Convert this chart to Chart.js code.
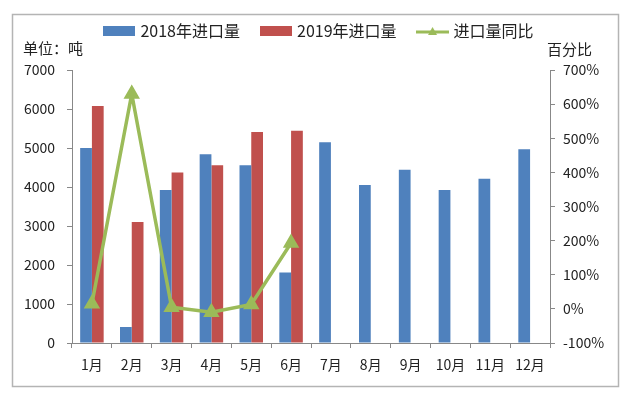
<!DOCTYPE html>
<html>
<head>
<meta charset="utf-8">
<script src="https://cdn.jsdelivr.net/npm/chart.js@4"></script>
<style>
  html, body { margin: 0; padding: 0; background: #fff; }
  #wrap { width: 640px; height: 395px; }
</style>
</head>
<body>
<div id="wrap"><canvas id="importChart" width="640" height="395"></canvas></div>
<script>
const months = ['1月', '2月', '3月', '4月', '5月', '6月', '7月', '8月', '9月', '10月', '11月', '12月'];
const imports2018 = [5000, 410, 3920, 4840, 4560, 1810, 5150, 4050, 4440, 3920, 4210, 4970];
const imports2019 = [6080, 3100, 4370, 4560, 5410, 5440, null, null, null, null, null, null];
const yoyPercent = [15, 630, 5, -10, 13, 193, null, null, null, null, null, null];
const leftTicks = [0, 1000, 2000, 3000, 4000, 5000, 6000, 7000];
const rightTicks = [-100, 0, 100, 200, 300, 400, 500, 600, 700];

const FONT = '"Noto Sans CJK SC", "Noto Sans", sans-serif';
const BLUE = '#4F81BD';
const RED = '#C0504D';
const GREEN = '#9BBB59';

// little legend symbols, Excel style
function boxSymbol(color) {
    const c = document.createElement('canvas');
    c.width = 32; c.height = 10;
    const g = c.getContext('2d');
    g.fillStyle = color;
    g.fillRect(0, 0, 32, 10);
    return c;
}
function lineSymbol(color) {
    const c = document.createElement('canvas');
    c.width = 33; c.height = 12;
    const g = c.getContext('2d');
    g.strokeStyle = color;
    g.lineWidth = 3;
    g.beginPath(); g.moveTo(0, 7); g.lineTo(33, 7); g.stroke();
    g.fillStyle = color;
    g.beginPath(); g.moveTo(16.5, 2); g.lineTo(21, 10); g.lineTo(12, 10); g.closePath(); g.fill();
    return c;
}
const symbols = [boxSymbol(BLUE), boxSymbol(RED), lineSymbol(GREEN)];

const frame = {
    id: 'frame',
    beforeDraw(chart) {
        const ctx = chart.ctx;
        ctx.save();
        ctx.fillStyle = '#fff';
        ctx.fillRect(0, 0, chart.width, chart.height);
        ctx.strokeStyle = '#b4b4b4';
        ctx.lineWidth = 1.5;
        ctx.strokeRect(12.5, 14.5, 606, 372);
        ctx.restore();
    },
    afterDraw(chart) {
        const ctx = chart.ctx;
        ctx.save();
        ctx.fillStyle = '#222';
        ctx.font = '15px ' + FONT;
        ctx.textBaseline = 'middle';
        ctx.textAlign = 'left';
        ctx.fillText('单位：吨', 23, 48);
        ctx.fillText('百分比', 547, 49);
        ctx.restore();
    }
};

const ctx = document.getElementById('importChart').getContext('2d');
new Chart(ctx, {
    type: 'bar',
    data: {
        labels: months,
        datasets: [{
            label: '2018年进口量',
            data: imports2018,
            backgroundColor: BLUE,
            yAxisID: 'y',
            order: 2
        }, {
            label: '2019年进口量',
            data: imports2019,
            backgroundColor: RED,
            yAxisID: 'y',
            order: 2
        }, {
            type: 'line',
            label: '进口量同比',
            data: yoyPercent,
            borderColor: GREEN,
            backgroundColor: GREEN,
            borderWidth: 3.5,
            pointStyle: 'triangle',
            pointRadius: 6,
            pointBackgroundColor: GREEN,
            pointBorderColor: GREEN,
            tension: 0,
            spanGaps: false,
            yAxisID: 'y1',
            order: 1
        }]
    },
    options: {
        responsive: false,
        animation: false,
        devicePixelRatio: 1,
        layout: { padding: { top: 0, bottom: 0, left: 0, right: 0 } },
        datasets: {
            bar: { barPercentage: 1.0, categoryPercentage: 0.59 }
        },
        plugins: {
            legend: {
                position: 'top',
                labels: {
                    usePointStyle: true,
                    pointStyleWidth: 26,
                    padding: 23,
                    color: '#222',
                    font: { family: FONT, size: 16 },
                    sort: (a, b) => a.datasetIndex - b.datasetIndex,
                    generateLabels(chart) {
                        const items = Chart.defaults.plugins.legend.labels.generateLabels(chart);
                        items.forEach(it => { it.pointStyle = symbols[it.datasetIndex]; });
                        return items;
                    }
                }
            },
            // blank spacer row between the legend and the plot (unit labels sit here)
            subtitle: {
                display: true,
                text: ' ',
                position: 'top',
                weight: 500,
                color: 'rgba(0,0,0,0)',
                font: { size: 10 },
                padding: { top: 4, bottom: 5 }
            },
            tooltip: { enabled: false }
        },
        scales: {
            x: {
                grid: { drawOnChartArea: false, drawTicks: true, tickLength: 5, color: '#888', offset: true },
                border: { display: true, color: '#888', width: 1 },
                ticks: { color: '#222', font: { family: FONT, size: 14 }, padding: 8, maxRotation: 0, autoSkip: false },
                afterFit(scale) { scale.height = 52; }
            },
            y: {
                position: 'left',
                min: 0,
                max: 7000,
                afterBuildTicks(scale) { scale.ticks = leftTicks.map(v => ({ value: v })); },
                grid: { drawOnChartArea: false, drawTicks: true, tickLength: 5, color: '#888' },
                border: { display: true, color: '#888', width: 1 },
                ticks: { color: '#222', font: { family: FONT, size: 14 }, padding: 12, callback: v => String(v) },
                afterFit(scale) { scale.width = 72; }
            },
            y1: {
                position: 'right',
                min: -100,
                max: 700,
                afterBuildTicks(scale) { scale.ticks = rightTicks.map(v => ({ value: v })); },
                grid: { drawOnChartArea: false, drawTicks: true, tickLength: 5, color: '#888' },
                border: { display: true, color: '#888', width: 1 },
                ticks: { color: '#222', font: { family: FONT, size: 14 }, padding: 8, callback: v => v + '%' },
                afterFit(scale) { scale.width = 90; }
            }
        }
    },
    plugins: [frame]
});
</script>
</body>
</html>
